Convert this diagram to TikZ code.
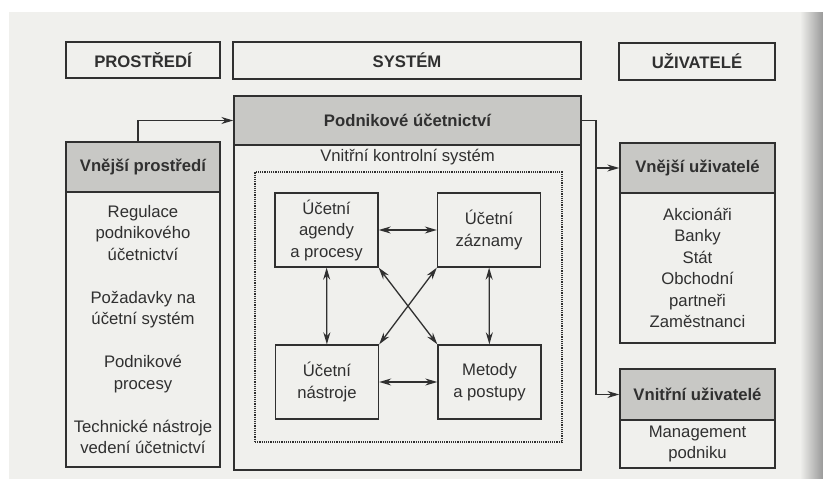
\documentclass[tikz,border=0pt]{standalone}
\usepackage{fontspec}
\setmainfont{Liberation Sans}
\usetikzlibrary{arrows.meta}
\definecolor{paper}{RGB}{240,240,237}
\definecolor{hdrgray}{RGB}{200,200,197}
\definecolor{ink}{RGB}{48,48,48}
\begin{document}
\begin{tikzpicture}[x=1pt,y=-1pt,
    every node/.style={font=\fontsize{16.7}{21.5}\selectfont, text=ink},
    box/.style={draw=ink, line width=1.4pt, inner sep=0pt, align=center},
    headbox/.style={box, fill=hdrgray, font=\fontsize{16.7}{21.5}\selectfont\bfseries},
    topbox/.style={box, font=\fontsize{16.7}{21.5}\selectfont\bfseries},
    inbox/.style={box, minimum width=103pt, minimum height=74pt},
    arr/.style={draw=ink, line width=1.3pt, -{Stealth[length=12pt,width=7pt]}},
    both/.style={arr, {Stealth[length=12pt,width=7pt]}-{Stealth[length=12pt,width=7pt]}}
]
% paper
\fill[white] (0,0) rectangle (823,479);
\fill[paper] (9,12) rectangle (823,479);
\shade[left color=paper, right color=black!40] (800,12) rectangle (823,479);

% top row
\node[topbox, minimum width=154pt, minimum height=36pt] (prostr) at (143,60) {PROSTŘEDÍ};
\node[topbox, minimum width=348pt, minimum height=37pt] (system) at (407,60.5) {SYSTÉM};
\node[topbox, minimum width=156pt, minimum height=37pt] (uziv) at (697,61.5) {UŽIVATELÉ};

% environment
\node[box, minimum width=154pt, minimum height=275pt] (extB) at (143,329.5)
  {Regulace\\podnikového\\účetnictví\\[21.5pt]Požadavky na\\účetní systém\\[21.5pt]Podnikové\\procesy\\[21.5pt]Technické nástroje\\vedení účetnictví};
\node[headbox, minimum width=154pt, minimum height=50pt] (extH) at (143,167) {Vnější prostředí};

% system
\node[box, minimum width=347pt, minimum height=325pt] (sysB) at (407.5,307.5) {};
\node[headbox, minimum width=347pt, minimum height=49pt] (sysH) at (407.5,120.5) {Podnikové účetnictví};
\node (vks) at (407.5,157) {Vnitřní kontrolní systém};
\node[draw=ink, line width=1.2pt, densely dotted, minimum width=307pt, minimum height=270pt] (ksB) at (408.5,307) {};

\node[inbox] (agendy) at (326.5,230) {Účetní\\agendy\\a procesy};
\node[inbox] (zaznamy) at (489,230) {Účetní\\záznamy};
\node[inbox] (nastroje) at (327,382) {Účetní\\nástroje};
\node[inbox] (metody) at (489.5,382) {Metody\\a postupy};

\draw[both] (agendy) -- (zaznamy);
\draw[both] (nastroje) -- (metody);
\draw[both] (agendy) -- (nastroje);
\draw[both] (zaznamy) -- (metody);
\draw[both] (agendy.south east) -- (metody.north west);
\draw[both] (nastroje.north east) -- (zaznamy.south west);

% users
\node[box, minimum width=155pt, minimum height=150pt] (usrB) at (697.5,268)
  {Akcionáři\\Banky\\Stát\\Obchodní\\partneři\\Zaměstnanci};
\node[headbox, minimum width=155pt, minimum height=50pt] (usrH) at (697.5,168) {Vnější uživatelé};
\node[box, minimum width=155pt, minimum height=48pt] (inB) at (697.5,444) {Management\\podniku};
\node[headbox, minimum width=155pt, minimum height=51pt] (inH) at (697.5,394.5) {Vnitřní uživatelé};

% connectors
\coordinate (split) at (596,0);
\draw[arr] ([xshift=-5pt]extH.north) |- (sysH.west);
\draw[arr] (sysH.east) -- (sysH.east -| split) |- (inH.west);
\draw[arr] (usrH.west -| split) -- (usrH.west);
\end{tikzpicture}
\end{document}
